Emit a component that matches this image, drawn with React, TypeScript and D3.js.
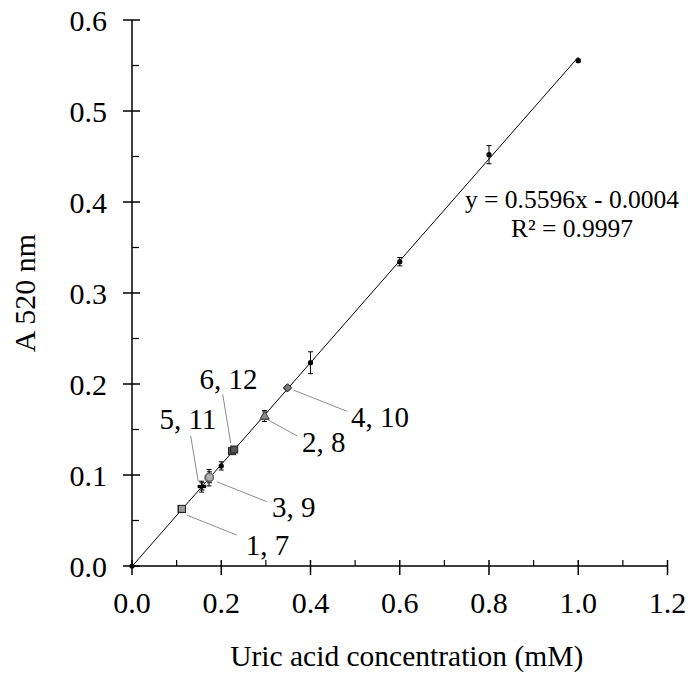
import React from "react";
import * as d3 from "d3";

// Standard curve: uric acid concentration (mM) vs absorbance at 520 nm
const stdConc = [0, 0.2, 0.4, 0.6, 0.8, 1.0];
const stdAbs = [0.0, 0.110, 0.2234, 0.3344, 0.452, 0.5553];
const stdErr = [0.0, 0.0045, 0.012, 0.0046, 0.010, 0.0015];

// Samples, plotted in pairs (each label names two samples)
const sampleLabels = ["1, 7", "2, 8", "3, 9", "4, 10", "5, 11", "6, 12"];
const sampleConcA = [0.111, 0.2966, 0.1726, 0.348, 0.156, 0.224];
const sampleAbsA = [0.0626, 0.1648, 0.097, 0.1956, 0.0872, 0.1262];
const sampleErrA = [0.002, 0.006, 0.009, 0.002, 0.006, 0.003];
const sampleConcB = [0.112, 0.2975, 0.1735, 0.349, 0.157, 0.229];
const sampleAbsB = [0.0628, 0.1652, 0.0975, 0.196, 0.0875, 0.128];
const sampleErrB = [0.002, 0.004, 0.006, 0.002, 0.004, 0.003];
const sampleShape = ["square", "triangle", "ring", "diamond", "dash", "square"];
const sampleFill = ["#9a9a9a", "#8a8a8a", "#b0b0b0", "#777777", "#000000", "#555555"];

// Callout placement, in data units: leader start, leader end, text start
const leaderX1 = [0.1226, 0.3054, 0.1898, 0.3615, 0.1486, 0.2212];
const leaderY1 = [0.056, 0.1604, 0.0926, 0.1934, 0.0926, 0.1348];
const leaderX2 = [0.2346, 0.37, 0.302, 0.482, 0.1315, 0.2033];
const leaderY2 = [0.034, 0.143, 0.0707, 0.170, 0.1429, 0.1887];
const textX = [0.255, 0.381, 0.314, 0.491, 0.0615, 0.151];
const textY = [0.0121, 0.1253, 0.0538, 0.1527, 0.1502, 0.1942];

// Linear fit
const slope = 0.5596;
const intercept = -0.0004;
const fitRange = [0, 1.0];
const eqText = "y = 0.5596x - 0.0004";
const r2Text = "R² = 0.9997";

const xTicks = [0, 0.2, 0.4, 0.6, 0.8, 1.0, 1.2];
const xMinor = [0.1, 0.3, 0.5, 0.7, 0.9, 1.1];
const yTicks = [0, 0.1, 0.2, 0.3, 0.4, 0.5, 0.6];
const yMinor = [0.05, 0.15, 0.25, 0.35, 0.45, 0.55];

const W = 688;
const H = 677;
const FONT = "'Liberation Serif', 'Times New Roman', serif";

function Marker({ shape, cx, cy, fill }: { shape: string; cx: number; cy: number; fill: string }) {
  if (shape === "square")
    return <rect x={cx - 3.5} y={cy - 3.5} width={7} height={7} fill={fill} stroke="#222" strokeWidth={1} />;
  if (shape === "triangle")
    return (
      <path
        d={`M${cx},${cy - 4.5}L${cx + 4.5},${cy + 3.5}L${cx - 4.5},${cy + 3.5}Z`}
        fill={fill}
        stroke="#444"
        strokeWidth={1}
      />
    );
  if (shape === "ring")
    return <circle cx={cx} cy={cy} r={4} fill={fill} stroke="#666" strokeWidth={1.5} />;
  if (shape === "diamond")
    return (
      <path
        d={`M${cx},${cy - 4}L${cx + 4},${cy}L${cx},${cy + 4}L${cx - 4},${cy}Z`}
        fill={fill}
        stroke="#333"
        strokeWidth={1}
      />
    );
  // dash
  return (
    <g>
      <rect x={cx - 4} y={cy - 1.5} width={8} height={3} fill={fill} />
      <circle cx={cx} cy={cy} r={2} fill={fill} />
    </g>
  );
}

function ErrBar({ cx, y1, y2 }: { cx: number; y1: number; y2: number }) {
  return (
    <g stroke="#000" strokeWidth={1}>
      <line x1={cx} x2={cx} y1={y1} y2={y2} />
      <line x1={cx - 2.5} x2={cx + 2.5} y1={y1} y2={y1} />
      <line x1={cx - 2.5} x2={cx + 2.5} y1={y2} y2={y2} />
    </g>
  );
}

export default function App() {
  const x = d3.scaleLinear().domain([0, 1.2]).range([132, 667.5]);
  const y = d3.scaleLinear().domain([0, 0.6]).range([566, 20]);

  const fitLine = d3
    .line<number>()
    .x((d) => x(d))
    .y((d) => y(slope * d + intercept));

  const x0 = x(0);
  const y0 = y(0);

  return (
    <svg width={W} height={H} style={{ position: "absolute", left: 0, top: 0, background: "#fff" }} fontFamily={FONT}>
      <rect width={W} height={H} fill="#fff" />

      {/* trend line */}
      <path d={fitLine(fitRange) || ""} fill="none" stroke="#000" strokeWidth={1} />

      {/* callout leaders */}
      {sampleLabels.map((_, i) => (
        <line
          key={"ld" + i}
          x1={x(leaderX1[i])}
          y1={y(leaderY1[i])}
          x2={x(leaderX2[i])}
          y2={y(leaderY2[i])}
          stroke="#8c8c8c"
          strokeWidth={1}
        />
      ))}

      {/* standards */}
      {stdConc.map((c, i) => (
        <g key={"s" + i}>
          {stdErr[i] > 0 && <ErrBar cx={x(c)} y1={y(stdAbs[i] + stdErr[i])} y2={y(stdAbs[i] - stdErr[i])} />}
          <circle cx={x(c)} cy={y(stdAbs[i])} r={2.6} fill="#000" />
        </g>
      ))}

      {/* samples */}
      {sampleLabels.map((_, i) => (
        <g key={"p" + i}>
          <ErrBar
            cx={x(sampleConcA[i])}
            y1={y(sampleAbsA[i] + sampleErrA[i])}
            y2={y(sampleAbsA[i] - sampleErrA[i])}
          />
          <ErrBar
            cx={x(sampleConcB[i])}
            y1={y(sampleAbsB[i] + sampleErrB[i])}
            y2={y(sampleAbsB[i] - sampleErrB[i])}
          />
          <Marker shape={sampleShape[i]} cx={x(sampleConcA[i])} cy={y(sampleAbsA[i])} fill={sampleFill[i]} />
          <Marker shape={sampleShape[i]} cx={x(sampleConcB[i])} cy={y(sampleAbsB[i])} fill={sampleFill[i]} />
        </g>
      ))}

      {/* callout labels */}
      {sampleLabels.map((t, i) => (
        <text key={"t" + i} x={x(textX[i])} y={y(textY[i])} fontSize={29} fill="#000">
          {t}
        </text>
      ))}

      {/* axes */}
      <g stroke="#000">
        <line x1={x0} x2={x(1.2)} y1={y0} y2={y0} strokeWidth={1.5} />
        <line x1={x0} x2={x0} y1={y(0)} y2={y(0.6)} strokeWidth={1.5} />
        {xTicks.map((t) => (
          <line key={"xt" + t} x1={x(t)} x2={x(t)} y1={y0 - 6} y2={y0 + 9} strokeWidth={1.5} />
        ))}
        {xMinor.map((t) => (
          <line key={"xm" + t} x1={x(t)} x2={x(t)} y1={y0 - 6} y2={y0} strokeWidth={1.2} />
        ))}
        {yTicks.map((t) => (
          <line key={"yt" + t} x1={x0 - 9} x2={x0 + 8} y1={y(t)} y2={y(t)} strokeWidth={1.5} />
        ))}
        {yMinor.map((t) => (
          <line key={"ym" + t} x1={x0} x2={x0 + 7} y1={y(t)} y2={y(t)} strokeWidth={1.2} />
        ))}
      </g>

      {xTicks.map((t) => (
        <text key={"xl" + t} x={x(t)} y={613} fontSize={30} textAnchor="middle" fill="#000">
          {d3.format(".1f")(t)}
        </text>
      ))}
      {yTicks.map((t) => (
        <text key={"yl" + t} x={107} y={y(t) + 10.5} fontSize={30} textAnchor="end" fill="#000">
          {d3.format(".1f")(t)}
        </text>
      ))}

      <text x={(x(0) + x(1.2)) / 2 + 7} y={666} fontSize={29.5} textAnchor="middle" fill="#000">
        Uric acid concentration (mM)
      </text>
      <text
        transform={`translate(35,${(y(0) + y(0.6)) / 2}) rotate(-90)`}
        fontSize={30}
        textAnchor="middle"
        fill="#000"
      >
        A 520 nm
      </text>

      {/* regression equation */}
      <text x={572} y={208} fontSize={25.5} textAnchor="middle" fill="#000">
        {eqText}
      </text>
      <text x={572} y={236.5} fontSize={25.5} textAnchor="middle" fill="#000">
        {r2Text}
      </text>
    </svg>
  );
}
